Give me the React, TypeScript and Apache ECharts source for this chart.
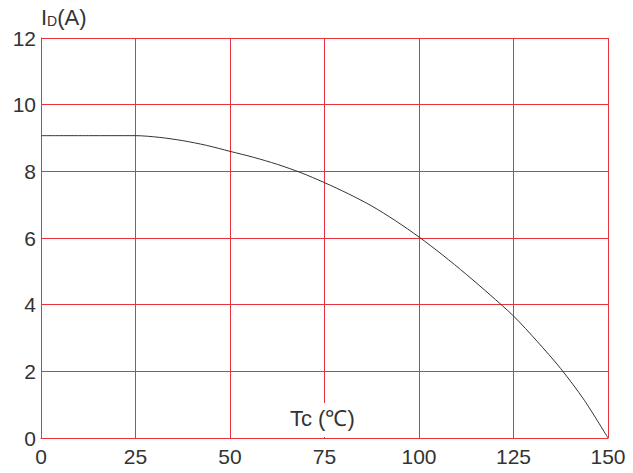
import React, { useEffect, useRef } from "react";
import * as echarts from "echarts";

const temps = [0, 12.5, 25, 31.25, 37.5, 43.75, 50, 56.25, 62.5, 68.75, 75, 81.25, 87.5, 93.75, 100, 106.25, 112.5, 118.75, 125, 131.25, 137.5, 143.75, 150];
const current = [9.07, 9.07, 9.07, 9.02, 8.92, 8.78, 8.6, 8.42, 8.21, 7.96, 7.66, 7.33, 6.96, 6.52, 6.03, 5.49, 4.91, 4.3, 3.66, 2.9, 2.08, 1.13, 0];
const xTicks = [0, 25, 50, 75, 100, 125, 150];
const yTicks = [0, 2, 4, 6, 8, 10, 12];

export default function App() {
  const ref = useRef<HTMLDivElement>(null);
  useEffect(() => {
    const chart = echarts.init(ref.current!, null, { renderer: "svg" });
    const red = "#e8323e";
    const font = "'Liberation Sans', Arial, sans-serif";
    chart.setOption({
      animation: false,
      backgroundColor: "#ffffff",
      grid: { left: 41, right: 25, top: 38, bottom: 35 },
      xAxis: {
        type: "value",
        min: xTicks[0],
        max: xTicks[xTicks.length - 1],
        interval: 25,
        axisLine: { show: true, lineStyle: { color: red, width: 1 } },
        axisTick: { show: false },
        splitLine: { show: true, lineStyle: { color: red, width: 1 } },
        axisLabel: { color: "#333", fontSize: 21, fontFamily: font, margin: 8 },
      },
      yAxis: {
        type: "value",
        min: yTicks[0],
        max: yTicks[yTicks.length - 1],
        interval: 2,
        axisLine: { show: true, lineStyle: { color: red, width: 1 } },
        axisTick: { show: false },
        splitLine: { show: true, lineStyle: { color: red, width: 1 } },
        axisLabel: { color: "#333", fontSize: 21, fontFamily: font, margin: 5 },
      },
      series: [
        {
          type: "line",
          data: temps.map((t, i) => [t, current[i]]),
          smooth: 0.3,
          showSymbol: false,
          lineStyle: { color: "#333", width: 1 },
          z: 5,
        },
      ],
      graphic: [
        {
          type: "text",
          left: 41,
          top: 6,
          style: {
            text: "{a|I}{b|D}{a|(A)}",
            rich: {
              a: { fontSize: 22, fontFamily: font, fill: "#333", verticalAlign: "bottom" },
              b: { fontSize: 14, fontFamily: font, fill: "#333", verticalAlign: "bottom" },
            },
          },
        },
        {
          type: "text",
          left: 286,
          top: 403,
          z: 10,
          style: {
            text: "Tc (℃)",
            fontSize: 22,
            fontFamily: font,
            fill: "#333",
            backgroundColor: "#ffffff",
            padding: [4, 4, 8, 4],
          },
        },
      ],
    });
    return () => chart.dispose();
  }, []);
  return <div ref={ref} style={{ width: 633, height: 473, position: "absolute", left: 0, top: 0 }} />;
}
